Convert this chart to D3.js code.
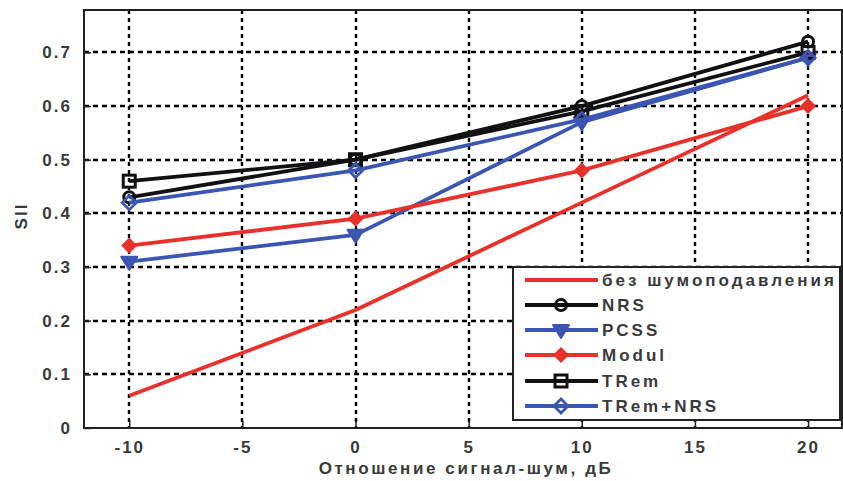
<!DOCTYPE html>
<html>
<head>
<meta charset="utf-8">
<script src="https://cdn.jsdelivr.net/npm/d3@7/dist/d3.min.js"></script>
<style>
  html, body { margin: 0; padding: 0; background: #fff; }
  svg text { font-family: "Liberation Sans Narrow", "Liberation Sans", Arial, sans-serif; }
</style>
</head>
<body>
<svg id="chart" width="843" height="481"></svg>
<script>
// Signal-to-noise ratio, dB
const snr = [-10, 0, 10, 20];

// SII per noise-reduction method
const noNR      = [0.06, 0.22, 0.42, 0.62];
const nrs       = [0.43, 0.50, 0.60, 0.72];
const pcss      = [0.31, 0.36, 0.57, 0.69];
const modul     = [0.34, 0.39, 0.48, 0.60];
const trem      = [0.46, 0.50, 0.59, 0.70];
const tremNrs   = [0.42, 0.48, 0.575, 0.69];

const xTicks = [-10, -5, 0, 5, 10, 15, 20];
const yTicks = [0, 0.1, 0.2, 0.3, 0.4, 0.5, 0.6, 0.7];

const seriesNames = ["без шумоподавления", "NRS", "PCSS", "Modul", "TRem", "TRem+NRS"];

const RED = "#e8312b", BLACK = "#111111", BLUE = "#3b55b3";

const series = [
  { name: seriesNames[0], values: noNR,    color: RED,   marker: null },
  { name: seriesNames[1], values: nrs,     color: BLACK, marker: "circle" },
  { name: seriesNames[2], values: pcss,    color: BLUE,  marker: "triangleDown" },
  { name: seriesNames[3], values: modul,   color: RED,   marker: "diamondFilled" },
  { name: seriesNames[4], values: trem,    color: BLACK, marker: "square" },
  { name: seriesNames[5], values: tremNrs, color: BLUE,  marker: "diamond" }
];

const svg = d3.select("#chart");
const m = { left: 84, top: 10, right: 842, bottom: 428 };

const x = d3.scaleLinear().domain([-12, 21.5]).range([m.left, m.right]);
const y = d3.scaleLinear().domain([0, 0.779]).range([m.bottom, m.top]);

const textColor = "#3a3a3a";

// dotted grid
const grid = svg.append("g");
grid.selectAll("line.gx").data(xTicks).join("line")
  .attr("x1", d => Math.round(x(d))).attr("x2", d => Math.round(x(d)))
  .attr("y1", m.top).attr("y2", m.bottom)
  .attr("stroke", "#000").attr("stroke-width", 2.4).attr("stroke-dasharray", "4,4");
grid.selectAll("line.gy").data(yTicks.slice(1)).join("line")
  .attr("x1", m.left).attr("x2", m.right)
  .attr("y1", d => Math.round(y(d))).attr("y2", d => Math.round(y(d)))
  .attr("stroke", "#000").attr("stroke-width", 2.4).attr("stroke-dasharray", "5,4");

// axes with inward ticks
const xAxis = d3.axisBottom(x).tickValues(xTicks).tickSizeInner(-7).tickSizeOuter(0).tickPadding(13)
  .tickFormat(d => String(d));
const yAxis = d3.axisLeft(y).tickValues(yTicks).tickSizeInner(-7).tickSizeOuter(0).tickPadding(12)
  .tickFormat(d => d === 0 ? "0" : d3.format(".1f")(d));

const gx = svg.append("g").attr("transform", `translate(0,${m.bottom})`).call(xAxis);
const gy = svg.append("g").attr("transform", `translate(${m.left},0)`).call(yAxis);
[gx, gy].forEach(g => {
  g.select(".domain").remove();
  g.selectAll(".tick line").attr("stroke", "#222").attr("stroke-width", 1.5);
  g.selectAll(".tick text").attr("fill", textColor).attr("font-size", 17)
    .attr("font-weight", "bold").style("letter-spacing", "2px");
});

// frame
svg.append("rect").attr("x", m.left).attr("y", m.top)
  .attr("width", m.right - m.left).attr("height", m.bottom - m.top)
  .attr("fill", "none").attr("stroke", "#222").attr("stroke-width", 2);

// axis titles
svg.append("text").attr("x", 466).attr("y", 474).attr("text-anchor", "middle")
  .attr("fill", textColor).attr("font-size", 17).attr("font-weight", "bold")
  .style("letter-spacing", "2.6px").text("Отношение сигнал-шум, дБ");
svg.append("text").attr("transform", "translate(27,216) rotate(-90)").attr("text-anchor", "middle")
  .attr("fill", textColor).attr("font-size", 17).attr("font-weight", "bold")
  .style("letter-spacing", "2px").text("SII");

// marker drawing
function drawMarker(g, type, cx, cy, color) {
  if (!type) return;
  if (type === "circle") {
    g.append("circle").attr("cx", cx).attr("cy", cy).attr("r", 5.5)
      .attr("fill", "none").attr("stroke", color).attr("stroke-width", 3);
  } else if (type === "square") {
    g.append("rect").attr("x", cx - 6).attr("y", cy - 6).attr("width", 12).attr("height", 12)
      .attr("fill", "none").attr("stroke", color).attr("stroke-width", 3);
  } else if (type === "triangleDown") {
    g.append("path").attr("d", `M${cx - 8},${cy - 5}L${cx + 8},${cy - 5}L${cx},${cy + 8}Z`)
      .attr("fill", color).attr("stroke", color).attr("stroke-width", 2).attr("stroke-linejoin", "round");
  } else if (type === "diamondFilled") {
    g.append("path").attr("d", `M${cx},${cy - 7}L${cx + 7},${cy}L${cx},${cy + 7}L${cx - 7},${cy}Z`)
      .attr("fill", color).attr("stroke", color).attr("stroke-width", 1.5);
  } else if (type === "diamond") {
    g.append("path").attr("d", `M${cx},${cy - 7}L${cx + 7},${cy}L${cx},${cy + 7}L${cx - 7},${cy}Z`)
      .attr("fill", "none").attr("stroke", color).attr("stroke-width", 2.8);
  }
}

const line = d3.line().x((d, i) => x(snr[i])).y(d => y(d));

const plot = svg.append("g");
series.forEach(s => {
  const g = plot.append("g");
  g.append("path").datum(s.values).attr("d", line)
    .attr("fill", "none").attr("stroke", s.color).attr("stroke-width", 3.8)
    .attr("stroke-linejoin", "round");
  s.values.forEach((v, i) => drawMarker(g, s.marker, x(snr[i]), y(v), s.color));
});

// legend
const lg = svg.append("g");
lg.append("rect").attr("x", 513).attr("y", 267).attr("width", 327).attr("height", 153)
  .attr("fill", "#fff").attr("stroke", "#222").attr("stroke-width", 2);
const rowY = [280, 305, 330, 355, 381, 406];
series.forEach((s, i) => {
  const ry = rowY[i];
  lg.append("line").attr("x1", 525).attr("x2", 598).attr("y1", ry).attr("y2", ry)
    .attr("stroke", s.color).attr("stroke-width", 3.8);
  drawMarker(lg, s.marker, 561, ry, s.color);
  lg.append("text").attr("x", 602).attr("y", ry + 6)
    .attr("fill", textColor).attr("font-size", 17).attr("font-weight", "bold")
    .style("letter-spacing", "3px").text(s.name);
});
</script>
</body>
</html>
